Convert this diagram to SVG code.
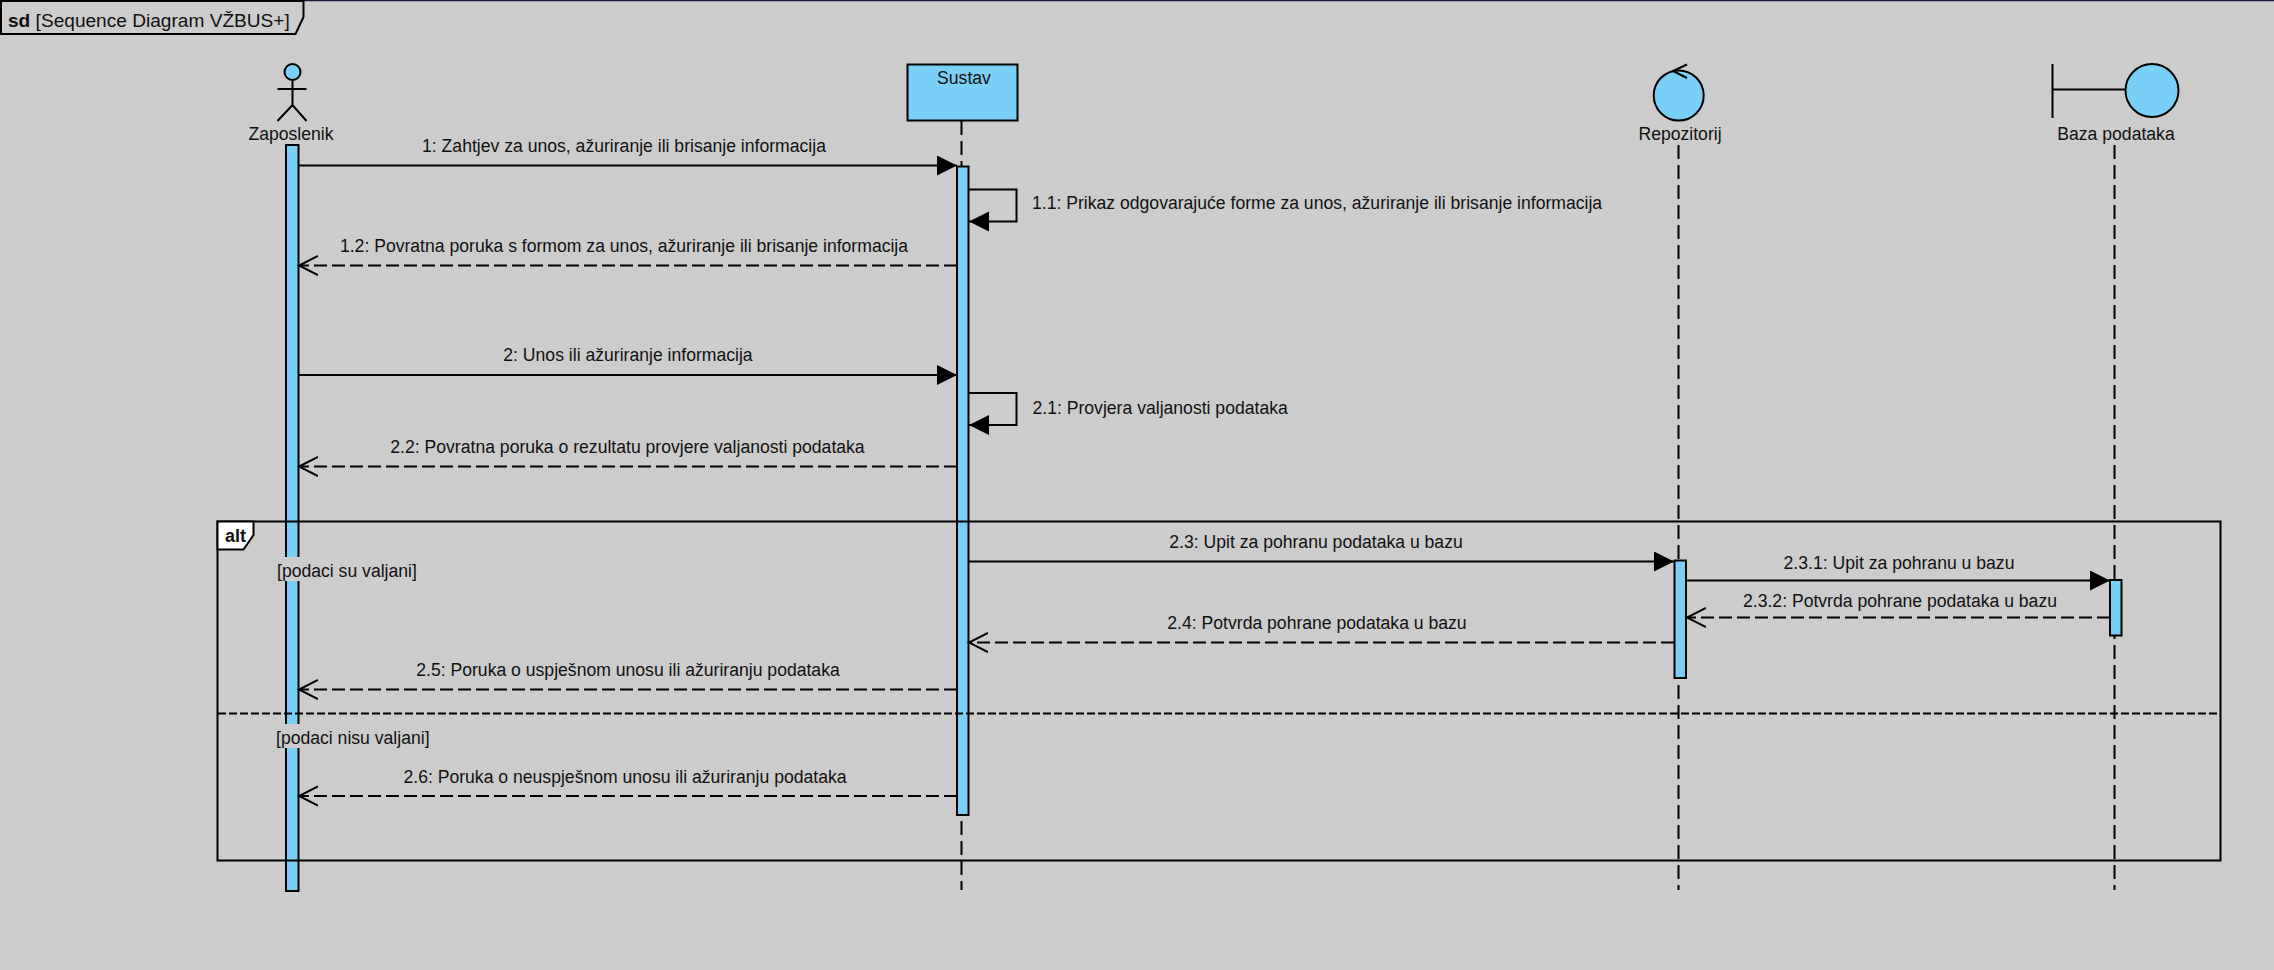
<svg xmlns="http://www.w3.org/2000/svg" width="2274" height="970" viewBox="0 0 2274 970">
<style>
text{font-family:"Liberation Sans",Arial,sans-serif;font-size:17.6px;fill:#111}
.m{text-anchor:middle}
.t{font-size:19.1px}
.a{font-size:18px;font-weight:bold}
.f{fill:#7acff7;stroke:#000;stroke-width:2}
.l{fill:none;stroke:#000;stroke-width:2}
.d{fill:none;stroke:#000;stroke-width:2;stroke-dasharray:13 5}
.ll{fill:none;stroke:#000;stroke-width:2;stroke-dasharray:14 6}
.dv{fill:none;stroke:#000;stroke-width:2;stroke-dasharray:8 3}
.bg{fill:#cccccc}
</style>
<defs>
<marker id="solid" markerUnits="userSpaceOnUse" markerWidth="22" markerHeight="22" refX="20" refY="10" orient="auto"><path d="M0,0L20,10L0,20Z"/></marker>
<marker id="open" markerUnits="userSpaceOnUse" markerWidth="22" markerHeight="24" refX="19" refY="11" orient="auto"><path d="M0,1.500L19,11L0,20.500" fill="none" stroke="#000" stroke-width="2"/></marker>
</defs>
<rect width="2274" height="970" fill="#cccccc"/>
<path d="M0,0.500H2274" stroke="#1a1a40" stroke-width="1.500"/>

<g id="frame-sd">
<path d="M1,1H303.500V17L295.500,34H1Z" fill="#cccccc" stroke="#000" stroke-width="2"/>
<text class="t" x="8" y="27"><tspan font-weight="bold">sd</tspan> [Sequence Diagram VŽBUS+]</text>
</g>

<g id="lifelines">
<path class="ll" d="M961.500,121V890"/>
<path class="ll" d="M1678.500,145V890"/>
<path class="ll" d="M2114.500,145V890"/>
</g>

<g id="zaposlenik">
<circle class="f" cx="292.500" cy="72" r="8"/>
<path class="l" d="M277.500,89H306.500M292.500,80V105M277.500,121L292.500,105L306.500,121"/>
<text class="m" x="291" y="140">Zaposlenik</text>
<rect class="f" x="286" y="145" width="12.500" height="746"/>
</g>

<g id="sustav">
<rect class="f" x="907.500" y="64.500" width="110" height="56"/>
<text class="m" x="964" y="84">Sustav</text>
<rect class="f" x="957" y="166.500" width="11.500" height="648.500"/>
</g>

<g id="repozitorij">
<circle class="f" cx="1678.700" cy="95.500" r="25"/>
<path class="l" d="M1687,64.500L1673,71L1687,78"/>
<text class="m" x="1680" y="140">Repozitorij</text>
<rect class="f" x="1674.500" y="560.500" width="11.500" height="117.500"/>
</g>

<g id="baza-podataka">
<path class="l" d="M2052.500,64V118M2052.500,89.500H2126"/>
<circle class="f" cx="2152" cy="90.500" r="26.500"/>
<text class="m" x="2116" y="140">Baza podataka</text>
<rect class="f" x="2110" y="580" width="11.500" height="55.500"/>
</g>

<g id="connectors">
<path class="l" marker-end="url(#solid)" d="M299,165.500H957"/>
<path class="l" marker-end="url(#solid)" d="M969,189.500H1016.500V221.500H969"/>
<path class="d" marker-end="url(#open)" d="M957,265.500H299"/>
<path class="l" marker-end="url(#solid)" d="M299,375H957"/>
<path class="l" marker-end="url(#solid)" d="M969,393H1016.500V425H969"/>
<path class="d" marker-end="url(#open)" d="M957,466.500H299"/>
<path class="l" marker-end="url(#solid)" d="M969,561.500H1674"/>
<path class="l" marker-end="url(#solid)" d="M1687,580.500H2110"/>
<path class="d" marker-end="url(#open)" d="M2110,617.500H1687"/>
<path class="d" marker-end="url(#open)" d="M1674,642.500H969"/>
<path class="d" marker-end="url(#open)" d="M957,689.500H299"/>
<path class="d" marker-end="url(#open)" d="M957,796H299"/>
</g>

<g id="labels">
<text class="m" x="624" y="151.500">1: Zahtjev za unos, ažuriranje ili brisanje informacija</text>
<text x="1032" y="209">1.1: Prikaz odgovarajuće forme za unos, ažuriranje ili brisanje informacija</text>
<text class="m" x="624" y="251.500">1.2: Povratna poruka s formom za unos, ažuriranje ili brisanje informacija</text>
<text class="m" x="628" y="360.500">2: Unos ili ažuriranje informacija</text>
<text x="1032.500" y="413.500">2.1: Provjera valjanosti podataka</text>
<text class="m" x="627.500" y="452.500">2.2: Povratna poruka o rezultatu provjere valjanosti podataka</text>
<text class="m" x="1316" y="547.500">2.3: Upit za pohranu podataka u bazu</text>
<text class="m" x="1899" y="568.500">2.3.1: Upit za pohranu u bazu</text>
<text class="m" x="1900" y="606.500">2.3.2: Potvrda pohrane podataka u bazu</text>
<text class="m" x="1317" y="628.500">2.4: Potvrda pohrane podataka u bazu</text>
<text class="m" x="628" y="675.500">2.5: Poruka o uspješnom unosu ili ažuriranju podataka</text>
<text class="m" x="625" y="782.500">2.6: Poruka o neuspješnom unosu ili ažuriranju podataka</text>
</g>

<g id="frame-alt">
<rect class="l" x="217.500" y="521.500" width="2003" height="339"/>
<path class="dv" d="M218,713.500H2220"/>
<path d="M217.500,521.500H253.500V535L243.500,549.500H217.500Z" fill="#fff" stroke="#000" stroke-width="2"/>
<text class="a" x="225" y="542">alt</text>
<rect class="bg" x="276" y="557" width="142" height="24"/>
<text x="277" y="576.500">[podaci su valjani]</text>
<rect class="bg" x="275" y="724" width="155" height="24"/>
<text x="276" y="743.500">[podaci nisu valjani]</text>
</g>
</svg>
